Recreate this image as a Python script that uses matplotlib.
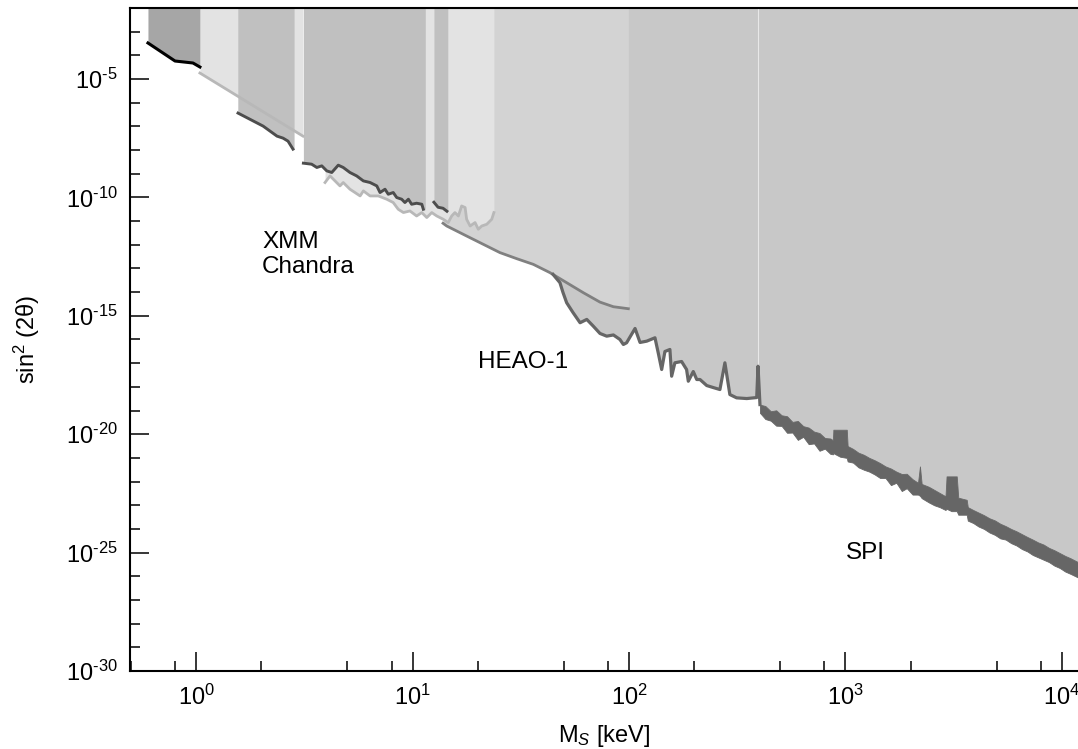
import numpy as np
import matplotlib.pyplot as plt
from matplotlib.ticker import FixedLocator, NullFormatter, FixedFormatter

plt.rcParams['font.family'] = ['Liberation Sans', 'DejaVu Sans']
plt.rcParams['mathtext.fontset'] = 'custom'
plt.rcParams['mathtext.rm'] = 'Liberation Sans'
plt.rcParams['mathtext.it'] = 'Liberation Sans:italic'

# digitised bounds: log10(M_s / keV) and log10(sin^2 2theta)
a_lm = [-0.222, -0.097, -0.014, 0.018]
a_ly = [-3.477, -4.239, -4.323, -4.492]

b1_lm = [0.018, 0.494]
b1_ly = [-4.746, -7.411]

b2_lm = [0.596, 0.619, 0.642, 0.665, 0.680, 0.711, 0.758, 0.773, 0.804, 0.842, 0.881,
         0.911, 0.934, 0.958, 0.988, 1.019, 1.043, 1.066, 1.089, 1.112, 1.142, 1.165,
         1.181, 1.196, 1.212, 1.227, 1.243, 1.250, 1.266, 1.289, 1.304, 1.320, 1.343,
         1.366, 1.376]
b2_ly = [-9.370, -9.091, -9.302, -9.514, -9.370, -9.653, -9.937, -9.725, -9.937, -9.937,
         -10.076, -10.216, -10.499, -10.639, -10.571, -10.783, -10.639, -10.850, -10.639,
         -10.783, -10.922, -11.062, -10.783, -10.639, -10.783, -10.360, -10.427, -10.922,
         -11.206, -11.062, -11.345, -11.206, -11.134, -10.922, -10.639]

c_lm = [0.194, 0.310, 0.374, 0.402, 0.425, 0.448]
c_ly = [-6.438, -6.988, -7.411, -7.496, -7.623, -7.961]

d_lm = [0.496, 0.534, 0.558, 0.581, 0.604, 0.627, 0.657, 0.680, 0.711, 0.742, 0.773,
        0.804, 0.835, 0.850, 0.873, 0.888, 0.911, 0.927, 0.950, 0.965, 0.981, 0.996,
        1.019, 1.043, 1.050]
d_ly = [-8.553, -8.596, -8.735, -8.667, -8.879, -8.947, -8.638, -8.735, -8.947, -9.091,
        -9.302, -9.370, -9.513, -9.793, -9.653, -9.865, -9.793, -10.004, -10.076, -10.216,
        -10.076, -10.288, -10.245, -10.288, -10.499]

e_lm = [1.099, 1.118, 1.141, 1.159]
e_ly = [-10.203, -10.415, -10.457, -10.584]

heao_lm = [1.141, 1.158, 1.250, 1.327, 1.404, 1.481, 1.558, 1.635, 1.712, 1.789, 1.866,
           1.928, 1.997]
heao_ly = [-11.091, -11.206, -11.629, -11.980, -12.331, -12.585, -12.826, -13.177, -13.600,
           -14.023, -14.421, -14.616, -14.700]

# SPI bound, low-mass part (thin line)
spi_lm = [1.649, 1.681, 1.695, 1.712, 1.741, 1.774, 1.805, 1.835, 1.866, 1.897, 1.928,
          1.958, 1.974, 1.989, 2.028, 2.051, 2.082, 2.120, 2.135, 2.151, 2.166, 2.189,
          2.197, 2.212, 2.243, 2.266, 2.274, 2.297, 2.313, 2.328, 2.359, 2.389, 2.420,
          2.443, 2.466, 2.497, 2.544, 2.590, 2.596, 2.605]
spi_ly = [-13.249, -13.600, -14.010, -14.446, -14.856, -15.292, -15.152, -15.436, -15.745,
          -15.859, -15.808, -15.998, -16.210, -16.138, -15.533, -16.125, -16.070, -15.927,
          -16.561, -17.267, -16.506, -16.421, -17.551, -16.984, -16.929, -17.267, -17.762,
          -17.352, -17.690, -17.690, -17.944, -18.029, -18.113, -16.984, -18.325, -18.464,
          -18.494, -18.452, -17.128, -18.748]

# SPI bound, high-mass part (band: upper and lower edge)
band_lm = [2.605, 2.630, 2.655, 2.680, 2.705, 2.730, 2.755, 2.780, 2.805, 2.830, 2.855,
           2.880, 2.905, 2.930, 2.942, 2.944, 2.975, 3.006, 3.010, 3.035, 3.060, 3.085,
           3.110, 3.135, 3.160, 3.185, 3.210, 3.235, 3.260, 3.283, 3.310, 3.335, 3.344,
           3.352, 3.385, 3.410, 3.435, 3.462, 3.467, 3.490, 3.514, 3.521, 3.560, 3.565,
           3.590, 3.615, 3.640, 3.665, 3.690, 3.715, 3.740, 3.765, 3.790, 3.815, 3.840,
           3.865, 3.890, 3.915, 3.940, 3.965, 3.990, 4.015, 4.040, 4.074]
band_hi = [-18.75, -18.81, -19.03, -18.99, -19.20, -19.24, -19.48, -19.44, -19.66, -19.72,
           -19.89, -19.95, -20.16, -20.18, -20.25, -19.81, -19.81, -19.81, -20.50, -20.62,
           -20.78, -20.87, -21.00, -21.10, -21.22, -21.36, -21.45, -21.58, -21.68, -21.67,
           -21.90, -22.05, -21.36, -22.10, -22.22, -22.35, -22.48, -22.62, -21.78, -21.78,
           -21.78, -22.68, -22.77, -23.08, -23.20, -23.31, -23.42, -23.55, -23.64, -23.78,
           -23.88, -24.00, -24.10, -24.22, -24.34, -24.45, -24.57, -24.66, -24.80, -24.90,
           -25.02, -25.14, -25.24, -25.40]
band_lo = [-19.10, -19.36, -19.43, -19.64, -19.65, -19.94, -19.93, -20.24, -20.11, -20.42,
           -20.39, -20.70, -20.61, -20.83, -20.85, -20.80, -20.95, -21.00, -21.15, -21.20,
           -21.40, -21.50, -21.58, -21.70, -21.85, -21.85, -22.15, -22.05, -22.40, -22.28,
           -22.55, -22.55, -22.60, -22.70, -22.88, -23.00, -23.08, -23.20, -23.15, -23.25,
           -23.25, -23.40, -23.40, -23.65, -23.75, -23.90, -24.00, -24.15, -24.25, -24.40,
           -24.45, -24.60, -24.70, -24.85, -24.95, -25.10, -25.20, -25.30, -25.40, -25.55,
           -25.65, -25.80, -25.90, -26.05]

line_lm = 2.596
line_ly = -17.128

labels = ['XMM', 'Chandra', 'HEAO-1', 'SPI']
label_m = [2.02, 2.02, 20.0, 1000.0]
label_ly = [-11.90, -12.95, -16.95, -25.03]

TOP = 1e-2
DARK = '#4d4d4d'
SPI_C = '#666666'


def p(v):
    return 10.0 ** np.asarray(v)


fig = plt.figure(figsize=(10.78, 7.49), dpi=100)
ax = fig.add_axes([130 / 1078, 78 / 749, 948 / 1078, 663 / 749])

# shaded excluded regions
ax.fill_between(p(spi_lm + band_lm), p(spi_ly + band_hi), TOP, color='#c8c8c8', lw=0)
ax.fill_between(p(heao_lm), p(heao_ly), TOP, color='#d3d3d3', lw=0)
ax.fill_between(p(b1_lm), p(b1_ly), TOP, color='#e3e3e3', lw=0)
ax.fill_between(p(b2_lm), p(b2_ly), TOP, color='#e3e3e3', lw=0)
ax.fill_between(p([0.193] + c_lm + [0.453]), p([c_ly[0]] + c_ly + [c_ly[-1]]), TOP, color='#c0c0c0', lw=0)
ax.fill_between(p(d_lm + [1.059]), p(d_ly + [d_ly[-1]]), TOP, color='#c0c0c0', lw=0)
ax.fill_between(p(e_lm + [1.163]), p(e_ly + [e_ly[-1]]), TOP, color='#c0c0c0', lw=0)
ax.fill_between(p(a_lm), p(a_ly), TOP, color='#a6a6a6', lw=0)

ax.plot([p(line_lm)] * 2, [p(line_ly), TOP], color='#e8e8e8', lw=0.8)

# bounds
ax.plot(p(b1_lm), p(b1_ly), color='#b8b8b8', lw=2.0)
ax.plot(p(b2_lm), p(b2_ly), color='#b8b8b8', lw=2.0)
ax.plot(p(heao_lm), p(heao_ly), color='#808080', lw=2.0)
ax.plot(p(c_lm), p(c_ly), color=DARK, lw=2.1)
ax.plot(p(d_lm), p(d_ly), color=DARK, lw=2.1)
ax.plot(p(e_lm), p(e_ly), color=DARK, lw=2.1)
ax.plot(p(a_lm), p(a_ly), color='black', lw=2.2)

ax.plot(p(spi_lm), p(spi_ly), color=SPI_C, lw=2.3)
ax.fill_between(p(band_lm), p(band_lo), p(band_hi), color=SPI_C, lw=0.6, edgecolor=SPI_C)

for t, xm, yl in zip(labels, label_m, label_ly):
    ax.text(xm, 10.0 ** yl, t, fontsize=17.5, va='center', ha='left')

ax.set_xscale('log')
ax.set_yscale('log')
ax.set_xlim(0.4955, 1.186e4)
ax.set_ylim(1e-30, 1e-2)

yexp = list(range(-30, -1, 5))
ax.yaxis.set_major_locator(FixedLocator([10.0 ** k for k in yexp]))
ax.yaxis.set_major_formatter(FixedFormatter(['10$^{\\text{%d}}$' % k for k in yexp]))
ax.yaxis.set_minor_locator(FixedLocator([10.0 ** k for k in range(-30, -1)]))
ax.yaxis.set_minor_formatter(NullFormatter())

xexp = list(range(5))
ax.xaxis.set_major_locator(FixedLocator([10.0 ** k for k in xexp]))
ax.xaxis.set_major_formatter(FixedFormatter(['10$^{%d}$' % k for k in xexp]))
ax.xaxis.set_minor_locator(FixedLocator([s * 10.0 ** k for k in range(-1, 5) for s in (2, 5, 8)]))
ax.xaxis.set_minor_formatter(NullFormatter())

ax.tick_params(which='both', direction='in', width=1.1, labelsize=17)
ax.tick_params(which='major', length=14)
ax.tick_params(which='minor', length=7)
ax.tick_params(axis='y', pad=9)
ax.tick_params(axis='x', pad=10, top=False)
for s in ('left', 'bottom', 'top'):
    ax.spines[s].set_linewidth(1.5)
ax.spines['right'].set_visible(False)

ax.set_xlabel('M$_S$ [keV]', fontsize=17, labelpad=9)
ax.set_ylabel('sin$^2$ (2θ)', fontsize=17, labelpad=17)

fig.savefig('out.png', dpi=100)
